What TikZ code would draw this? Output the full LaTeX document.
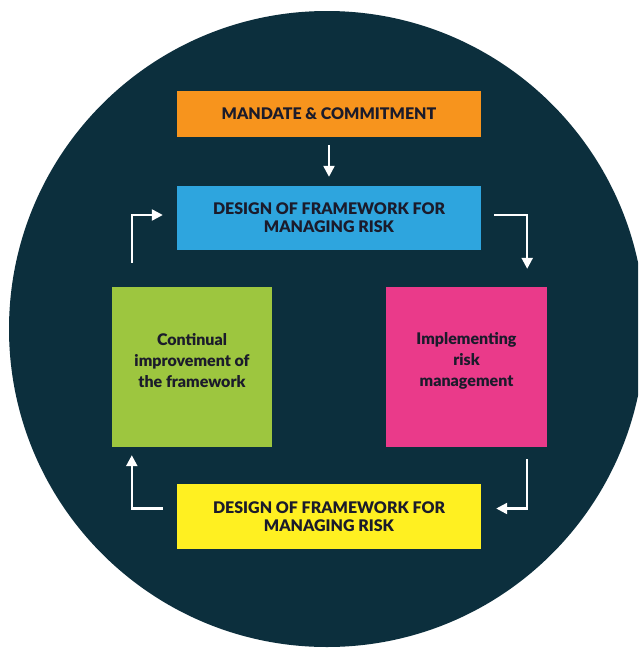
\documentclass[tikz,border=0pt]{standalone}
\usepackage{fontspec}
\setmainfont{Lato}[BoldFont={Lato Black}]
\usetikzlibrary{arrows.meta}
\definecolor{bgnavy}{HTML}{0C2F3D}
\definecolor{cOrange}{HTML}{F7941D}
\definecolor{cBlue}{HTML}{2EA5DE}
\definecolor{cGreen}{HTML}{9DC63F}
\definecolor{cPink}{HTML}{EA3A8A}
\definecolor{cYellow}{HTML}{FFF021}
\definecolor{txtdark}{HTML}{1B1B2B}
\tikzset{
  bar/.style={rectangle, inner sep=0pt, minimum width=304pt, text=txtdark,
    font=\fontsize{16}{18}\selectfont\bfseries, align=center},
  sq/.style={rectangle, inner sep=0pt, minimum width=160pt, minimum height=160pt},
  sqtxt/.style={text=txtdark, font=\fontsize{16}{21}\selectfont\bfseries, align=center, inner sep=0pt},
  arr/.style={draw=white, line width=2.3pt, -{Triangle[width=11pt,length=11pt]}}
}
\begin{document}
\begin{tikzpicture}[x=1pt,y=-1pt]
\useasboundingbox (0,0) rectangle (638,648);
\clip (0,0) rectangle (638,648);
\fill[white] (0,0) rectangle (638,648);
\fill[bgnavy] (327,329) circle[radius=318];
\node[bar, fill=cOrange, minimum height=46pt] (mandate) at (329,114) {MANDATE \& COMMITMENT};
\node[bar, fill=cBlue, minimum height=64pt] (design) at (329,218) {DESIGN OF FRAMEWORK FOR\\MANAGING RISK};
\node[sq, fill=cGreen] (green) at (192,367) {};
\node[sqtxt] (greent) at ([yshift=6pt]green.center) {Continual\\improvement of\\the framework};
\node[sq, fill=cPink, minimum width=161pt] (pink) at (466.5,367) {};
\node[sqtxt] (pinkt) at ([yshift=6pt]pink.center) {Implementing\\risk\\management};
\node[bar, fill=cYellow, minimum height=65pt] (monitor) at (329,516.5) {DESIGN OF FRAMEWORK FOR\\MANAGING RISK};
\draw[arr, shorten <=8pt, shorten >=9pt] (mandate.south) -- (design.north);
\draw[arr] ([xshift=13pt,yshift=3pt]design.east) -| ([xshift=-20pt,yshift=18pt]pink.north east);
\draw[arr] ([xshift=-20pt,yshift=-12pt]pink.south east) |- ([xshift=15pt,yshift=8pt]monitor.east);
\draw[arr] ([xshift=-14pt,yshift=8pt]monitor.west) -| ([xshift=20pt,yshift=-8pt]green.south west);
\draw[arr] ([xshift=20pt,yshift=24pt]green.north west) |- ([xshift=-14pt,yshift=3pt]design.west);
\end{tikzpicture}
\end{document}
